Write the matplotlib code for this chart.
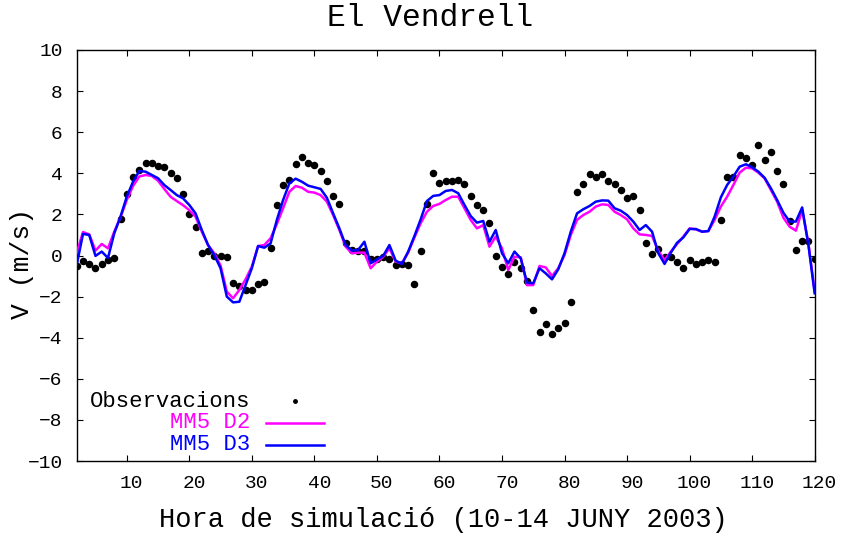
import numpy as np
import matplotlib.pyplot as plt
import matplotlib.transforms as mtransforms

# hourly values, hour 2 .. 120
hours = np.arange(2, 121)

obs = [
    -0.49, -0.27, -0.41, -0.59, -0.41, -0.22, -0.11, 1.76, 3.0, 3.8,
    4.18, 4.52, 4.48, 4.36, 4.29, 4.03, 3.79, 3.0, 2.02, 1.40,
    0.14, 0.2, -0.02, 0.0, -0.09, -1.34, -1.47, -1.66, -1.68, -1.37,
    -1.31, 0.37, 2.44, 3.45, 3.69, 4.47, 4.79, 4.48, 4.4, 4.09,
    3.64, 2.91, 2.5, 0.59, 0.25, 0.2, 0.24, -0.19, -0.15, -0.09,
    -0.19, -0.48, -0.41, -0.46, -1.39, 0.22, 2.5, 4.0, 3.51, 3.64,
    3.64, 3.67, 3.48, 2.91, 2.46, 2.21, 1.57, -0.01, -0.54, -0.9,
    -0.3, -0.59, -1.22, -2.65, -3.74, -3.35, -3.84, -3.54, -3.3, -2.28,
    3.11, 3.48, 3.98, 3.82, 3.98, 3.64, 3.49, 3.19, 2.81, 2.9,
    2.2, 0.61, 0.06, 0.3, -0.06, -0.06, -0.33, -0.61, -0.2, -0.4,
    -0.33, -0.2, -0.33, 1.74, 3.8, 3.82, 4.87, 4.76, 4.4, 5.36,
    4.66, 5.02, 4.1, 3.5, 1.7, 0.28, 0.72, 0.72, -0.19,
]

mm5_d2 = [
    0.12, 1.14, 1.03, 0.24, 0.56, 0.35, 1.16, 1.86, 2.7, 3.38,
    3.84, 3.92, 3.87, 3.64, 3.24, 2.86, 2.65, 2.45, 2.21, 1.89,
    1.16, 0.51, 0.1, -0.49, -1.76, -2.08, -1.68, -1.16, -0.54, 0.46,
    0.51, 0.84, 1.53, 2.3, 3.1, 3.38, 3.3, 3.1, 3.06, 2.94,
    2.62, 1.97, 1.24, 0.43, 0.11, 0.14, 0.14, -0.62, -0.3, -0.06,
    0.35, -0.3, -0.38, 0.14, 0.88, 1.57, 2.13, 2.41, 2.51, 2.7,
    2.86, 2.86, 2.3, 1.73, 1.32, 1.48, 0.43, 0.92, 0.35, -0.71,
    -0.06, -0.09, -1.44, -1.44, -0.51, -0.58, -1.0, -0.62, 0.02, 1.0,
    1.73, 1.97, 2.13, 2.38, 2.49, 2.46, 2.13, 1.97, 1.76, 1.32,
    1.03, 1.0, 0.95, 0.22, -0.22, 0.19, 0.56, 0.92, 1.32, 1.27,
    1.16, 1.19, 1.73, 2.38, 2.86, 3.43, 4.03, 4.27, 4.24, 4.03,
    3.75, 3.19, 2.62, 1.84, 1.4, 1.21, 2.21, 0.59, -1.76,
]

mm5_d3 = [
    -0.46, 1.05, 1.0, -0.02, 0.19, -0.12, 1.08, 1.89, 2.86, 3.59,
    4.11, 4.08, 3.92, 3.76, 3.43, 3.19, 2.94, 2.78, 2.46, 2.05,
    1.24, 0.51, 0.02, -0.62, -2.0, -2.28, -2.25, -1.44, -0.62, 0.46,
    0.38, 0.59, 1.73, 2.7, 3.51, 3.74, 3.59, 3.4, 3.32, 3.24,
    2.81, 2.05, 1.32, 0.51, 0.24, 0.27, 0.67, -0.38, -0.19, -0.02,
    0.51, -0.25, -0.41, 0.19, 0.95, 1.76, 2.65, 2.9, 2.94, 3.14,
    3.19, 3.03, 2.46, 1.92, 1.6, 1.68, 0.67, 1.24, 0.11, -0.38,
    0.19, -0.14, -1.32, -1.35, -0.62, -0.87, -1.16, -0.67, 0.11, 1.16,
    2.05, 2.25, 2.41, 2.62, 2.68, 2.67, 2.3, 2.18, 1.97, 1.65,
    1.24, 1.48, 1.16, 0.11, -0.41, 0.14, 0.62, 0.88, 1.29, 1.29,
    1.16, 1.19, 1.89, 2.83, 3.43, 3.84, 4.32, 4.44, 4.29, 4.08,
    3.78, 3.27, 2.7, 2.08, 1.65, 1.65, 2.34, 0.51, -1.84,
]

xticks = list(range(10, 121, 10))
yticks = list(range(-10, 11, 2))

plt.rcParams['font.family'] = ['Liberation Mono', 'DejaVu Sans Mono']

fig = plt.figure(figsize=(8.45, 5.37), dpi=100)
ax = fig.add_axes([0.0908, 0.1415, 0.8733, 0.7654])

ax.plot(hours, obs, 'o', color='black', markersize=4.4, zorder=2)
ax.plot(hours, mm5_d2, color='#ff00ff', lw=1.8, zorder=3)
ax.plot(hours, mm5_d3, color='#0000ff', lw=1.8, zorder=4)

ax.set_xlim(2, 120)
ax.set_ylim(-10, 10)
ax.set_xticks(xticks)
ax.set_yticks(yticks)
ax.tick_params(direction='in', top=True, right=True, length=4, width=0.8,
               labelsize=14, pad=10)
for s in ax.spines.values():
    s.set_linewidth(1.0)

# gnuplot draws the x labels a bit to the right of their ticks
off = mtransforms.ScaledTranslation(5 / 100, 0, fig.dpi_scale_trans)
for lab in ax.get_xticklabels():
    lab.set_transform(lab.get_transform() + off)

# key, gnuplot style: right aligned text, sample after it
tr = ax.transAxes
ax.text(0.2348, 0.146, 'Observacions', transform=tr, ha='right', va='center',
        fontsize=16, color='black')
ax.plot([0.2958], [0.146], 'o', color='black', markersize=2.5, transform=tr)
ax.text(0.2348, 0.0925, 'MM5 D2', transform=tr, ha='right', va='center',
        fontsize=16, color='#ff00ff')
ax.plot([0.2565, 0.3351], [0.0925, 0.0925], color='#ff00ff', lw=1.8, transform=tr)
ax.text(0.2348, 0.039, 'MM5 D3', transform=tr, ha='right', va='center',
        fontsize=16, color='#0000ff')
ax.plot([0.2565, 0.3351], [0.039, 0.039], color='#0000ff', lw=1.8, transform=tr)

fig.text(0.509, 0.966, 'El Vendrell', ha='center', va='center', fontsize=22.5)
fig.text(0.525, 0.032, 'Hora de simulació (10-14 JUNY 2003)', ha='center',
         va='center', fontsize=19.5)
fig.text(0.026, 0.51, 'V (m/s)', ha='center', va='center', rotation=90,
         fontsize=19)

fig.savefig('out.png', dpi=100)
